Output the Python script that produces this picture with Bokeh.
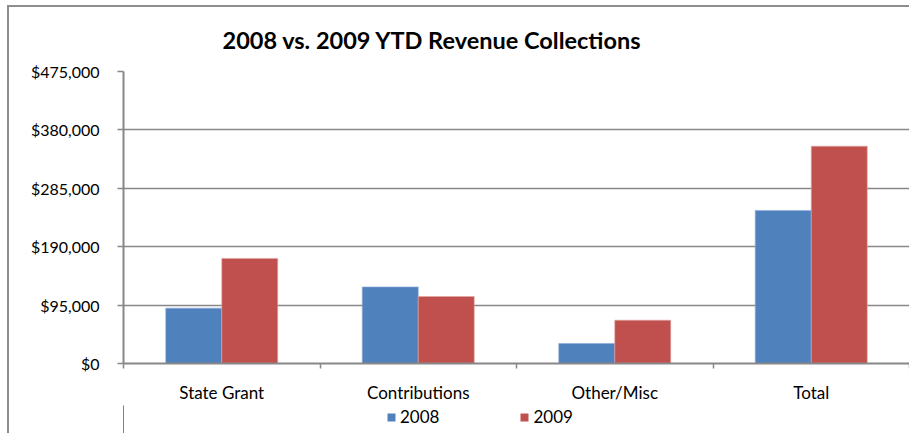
from bokeh.plotting import figure
from bokeh.layouts import column
from bokeh.models import (ColumnDataSource, FixedTicker, NumeralTickFormatter,
                          Range1d, Legend, LegendItem)
from bokeh.embed import file_html
from bokeh.resources import INLINE

categories = ["State Grant", "Contributions", "Other/Misc", "Total"]
values_2008 = [90000, 124500, 32500, 249000]
values_2009 = [171000, 109000, 70500, 353500]
y_ticks = [0, 95000, 190000, 285000, 380000, 475000]
series_names = ["2008", "2009"]
title_text = "2008 vs. 2009 YTD Revenue Collections"

FONT = "Lato"
BLUE = "#4F81BD"
RED = "#C0504D"
GRAY = "#878787"
BLUE_EDGE = "#8EAADB"
RED_EDGE = "#E3A8A6"

centers = [i + 0.5 for i in range(len(categories))]
bar_w = 0.285
src = ColumnDataSource(dict(
    x08=[c - bar_w / 2 for c in centers],
    x09=[c + bar_w / 2 for c in centers],
    v08=values_2008,
    v09=values_2009,
))

p = figure(frame_width=786, frame_height=292, output_backend="svg", toolbar_location=None,
           x_range=Range1d(0, len(categories)), y_range=Range1d(0, y_ticks[-1]),
           min_border_left=114, min_border_right=0, min_border_top=64,
           min_border_bottom=38)
p.outline_line_color = None
p.background_fill_color = "white"
p.border_fill_color = "white"

p.vbar(x="x08", top="v08", width=bar_w, bottom=0, source=src,
       fill_color=BLUE, line_color=BLUE_EDGE, line_width=0.6)
p.vbar(x="x09", top="v09", width=bar_w, bottom=0, source=src,
       fill_color=RED, line_color=RED_EDGE, line_width=0.6)

# title
p.title.text = title_text
p.title.text_font = FONT
p.title.text_font_style = "bold"
p.title.text_font_size = "23.5px"
p.title.text_color = "#000000"
p.title.align = "left"
p.title.offset = 99
p.title.vertical_align = "middle"
p.title.standoff = 33

# axes
p.xgrid.visible = False
p.ygrid.grid_line_color = GRAY
p.ygrid.grid_line_width = 1.5
p.yaxis.ticker = FixedTicker(ticks=y_ticks)
p.yaxis.formatter = NumeralTickFormatter(format="$0,0")
p.yaxis.axis_line_color = GRAY
p.yaxis.axis_line_width = 2
p.yaxis.major_tick_line_color = GRAY
p.yaxis.major_tick_line_width = 1.5
p.yaxis.major_tick_out = 6
p.yaxis.major_tick_in = 0
p.yaxis.minor_tick_line_color = None
p.yaxis.major_label_standoff = 18
p.yaxis.major_label_text_font_size = "16px"

p.xaxis.ticker = FixedTicker(ticks=centers, minor_ticks=list(range(len(categories) + 1)))
p.xaxis.major_label_overrides = {c: cat for c, cat in zip(centers, categories)}
p.xaxis.axis_line_color = GRAY
p.xaxis.axis_line_width = 2
p.xaxis.major_tick_line_color = None
p.xaxis.major_tick_out = 0
p.xaxis.major_tick_in = 0
p.xaxis.minor_tick_line_color = GRAY
p.xaxis.minor_tick_line_width = 1.5
p.xaxis.minor_tick_out = 5
p.xaxis.minor_tick_in = 0
p.xaxis.major_label_standoff = 13
p.xaxis.major_label_text_font_size = "17px"

for ax in (p.xaxis, p.yaxis):
    ax.major_label_text_font = FONT
    ax.major_label_text_color = "#000000"

# legend strip (separate small figure below the chart)
lg = figure(width=900, height=30, output_backend="svg", toolbar_location=None,
            x_axis_type=None, y_axis_type=None,
            x_range=Range1d(100, 101), y_range=Range1d(0, 1),
            min_border_left=114, min_border_right=0, min_border_top=0,
            min_border_bottom=0)
lg.outline_line_color = None
lg.background_fill_color = "white"
lg.border_fill_color = "white"
lg.grid.visible = False
lg.axis.visible = False
l08 = lg.vbar(x="x08", top="v08", width=bar_w, bottom=0, source=src,
              fill_color=BLUE, line_color=None)
l09 = lg.vbar(x="x09", top="v09", width=bar_w, bottom=0, source=src,
              fill_color=RED, line_color=None)
legend = Legend(items=[LegendItem(label=series_names[0], renderers=[l08]),
                       LegendItem(label=series_names[1], renderers=[l09])],
                location=(263, 8), orientation="horizontal",
                glyph_width=10, glyph_height=10, label_standoff=4,
                spacing=80, padding=0, margin=0,
                border_line_color=None, background_fill_alpha=0,
                label_text_font=FONT, label_text_font_size="17px",
                label_text_color="#000000")
lg.add_layout(legend)

layout = column(p, lg, spacing=0,
                styles={"border-top": "2px solid #8e8e8e",
                        "border-left": "2px solid #8e8e8e",
                        "margin-top": "5px", "margin-left": "7px"})

open("out.html", "w").write(file_html(layout, INLINE))
